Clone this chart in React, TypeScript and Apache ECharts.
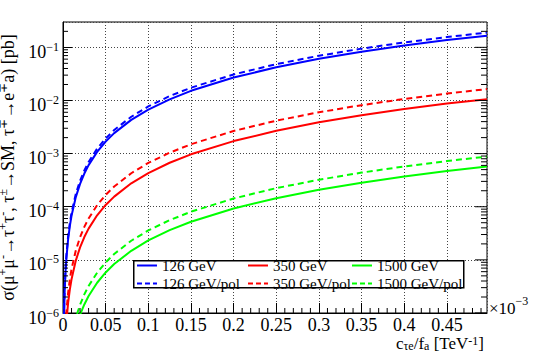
import React, { useEffect, useRef } from "react";
import * as echarts from "echarts";

// x values in units of 1e-3 TeV^-1
const X = [0.001, 0.002, 0.003, 0.004, 0.006, 0.008, 0.01, 0.015, 0.02, 0.025, 0.03, 0.04, 0.05, 0.06, 0.08, 0.1, 0.125, 0.15, 0.2, 0.25, 0.3, 0.35, 0.4, 0.45, 0.497];

const S126 = [6.8e-7, 2.7e-6, 6.1e-6, 1.08e-5, 2.43e-5, 4.32e-5, 6.75e-5, 1.52e-4, 2.7e-4, 4.22e-4, 6.08e-4, 1.08e-3, 1.69e-3, 2.43e-3, 4.32e-3, 6.75e-3, 1.05e-2, 1.52e-2, 2.7e-2, 4.22e-2, 6.08e-2, 8.27e-2, 0.108, 0.137, 0.166];
const S126P = [7.7e-7, 3.1e-6, 6.9e-6, 1.24e-5, 2.78e-5, 4.94e-5, 7.72e-5, 1.74e-4, 3.09e-4, 4.83e-4, 6.95e-4, 1.24e-3, 1.93e-3, 2.78e-3, 4.94e-3, 7.72e-3, 1.21e-2, 1.74e-2, 3.09e-2, 4.83e-2, 6.95e-2, 9.46e-2, 0.124, 0.156, 0.19];
const S350 = [4.3e-8, 1.7e-7, 3.9e-7, 6.9e-7, 1.55e-6, 2.76e-6, 4.31e-6, 9.7e-6, 1.72e-5, 2.69e-5, 3.88e-5, 6.9e-5, 1.08e-4, 1.55e-4, 2.76e-4, 4.31e-4, 6.73e-4, 9.7e-4, 1.72e-3, 2.69e-3, 3.88e-3, 5.28e-3, 6.9e-3, 8.73e-3, 1.06e-2];
const S350P = [6.7e-8, 2.7e-7, 6.0e-7, 1.07e-6, 2.4e-6, 4.27e-6, 6.67e-6, 1.5e-5, 2.67e-5, 4.17e-5, 6.0e-5, 1.07e-4, 1.67e-4, 2.4e-4, 4.27e-4, 6.67e-4, 1.04e-3, 1.5e-3, 2.67e-3, 4.17e-3, 6.0e-3, 8.17e-3, 1.07e-2, 1.35e-2, 1.64e-2];
const S1500 = [2.3e-9, 9.3e-9, 2.1e-8, 3.7e-8, 8.4e-8, 1.5e-7, 2.32e-7, 5.2e-7, 9.3e-7, 1.45e-6, 2.09e-6, 3.71e-6, 5.8e-6, 8.35e-6, 1.48e-5, 2.32e-5, 3.63e-5, 5.22e-5, 9.28e-5, 1.45e-4, 2.09e-4, 2.84e-4, 3.71e-4, 4.7e-4, 5.7e-4];
const S1500P = [3.6e-9, 1.4e-8, 3.2e-8, 5.7e-8, 1.29e-7, 2.29e-7, 3.58e-7, 8.1e-7, 1.43e-6, 2.24e-6, 3.22e-6, 5.73e-6, 8.95e-6, 1.29e-5, 2.29e-5, 3.58e-5, 5.59e-5, 8.06e-5, 1.43e-4, 2.24e-4, 3.22e-4, 4.39e-4, 5.73e-4, 7.25e-4, 8.8e-4];

const NAMES = ["126 GeV", "126 GeV/pol", "350 GeV", "350 GeV/pol", "1500 GeV", "1500 GeV/pol"];

const X_MIN = 0;
const X_MAX = 0.497;
const Y_MIN = 1e-6;
const Y_MAX = 0.3;

const FONT = "'Liberation Serif', 'Times New Roman', serif";

const SOLID_ICON = "path://M0,6h20v2h-20z M0,0h0.01v0.01h-0.01z M0,14h0.01v0.01h-0.01z";
const DASH_ICON = "path://M0,6h5v2h-5z M8,6h5v2h-5z M16,6h4v2h-4z M0,0h0.01v0.01h-0.01z M0,14h0.01v0.01h-0.01z";

export default function App() {
  const ref = useRef<HTMLDivElement>(null);

  useEffect(() => {
    if (!ref.current) return;
    const chart = echarts.init(ref.current, undefined, { renderer: "svg" });

    // tick helpers (axis decoration only)
    const tickData: number[][] = [];
    for (let e = -6; e <= -1; e++) {
      tickData.push([0, Math.pow(10, e), 2]);
      for (let m = 2; m <= 9; m++) {
        const v = m * Math.pow(10, e);
        if (v < Y_MAX) tickData.push([0, v, 0]);
      }
    }
    for (let i = 1; i < 50; i++) {
      if (i % 5 !== 0) tickData.push([i / 100, Y_MIN, 1]);
    }

    const mk = (name: string, vals: number[], color: string, dashed: boolean) => ({
      name,
      type: "line",
      data: X.map((x, i) => [x, vals[i]]),
      symbol: "none",
      showSymbol: false,
      clip: true,
      z: 3,
      lineStyle: { color, width: 2, type: dashed ? [6, 4] : "solid" },
      itemStyle: { color },
    });

    const legendBase = {
      orient: "vertical",
      top: 258,
      itemWidth: 20,
      itemHeight: 14,
      itemGap: 3,
      padding: 0,
      selectedMode: false,
      z: 6,
      textStyle: { fontFamily: FONT, fontSize: 15, color: "#000" },
    };
    const legItem = (i: number) => ({ name: NAMES[i], icon: i % 2 === 0 ? SOLID_ICON : DASH_ICON });

    const tickStyle = { stroke: "#000", lineWidth: 1 };
    const gridLine = { color: "#444", type: [1, 2], width: 1 };

    chart.setOption({
      animation: false,
      backgroundColor: "#fff",
      textStyle: { fontFamily: FONT },
      grid: {
        left: 63,
        right: 46,
        top: 22,
        bottom: 49,
        containLabel: false,
        outerBoundsMode: "none",
        show: true,
        borderColor: "#000",
        borderWidth: 1,
      },
      legend: [
        { ...legendBase, left: 137, data: [legItem(0), legItem(1)] },
        { ...legendBase, left: 248, data: [legItem(2), legItem(3)] },
        { ...legendBase, left: 352, data: [legItem(4), legItem(5)] },
      ],
      xAxis: {
        type: "value",
        min: X_MIN,
        max: X_MAX,
        interval: 0.05,
        axisLine: { show: true, lineStyle: { color: "#000", width: 1 } },
        axisTick: { show: true, inside: true, length: 10, lineStyle: { color: "#000" } },
        axisLabel: {
          fontFamily: FONT,
          fontSize: 18,
          lineHeight: 18,
          color: "#000",
          margin: 3,
          showMaxLabel: false,
          formatter: (v: number) => String(Math.round(v * 100) / 100),
        },
        splitLine: { show: true, lineStyle: gridLine },
      },
      yAxis: {
        type: "log",
        logBase: 10,
        min: Y_MIN,
        max: Y_MAX,
        axisLine: { show: true, lineStyle: { color: "#000", width: 1 } },
        axisTick: { show: true, inside: true, length: 9, lineStyle: { color: "#000" } },
        axisLabel: {
          showMaxLabel: false,
          margin: 4,
          fontFamily: FONT,
          fontSize: 18,
          color: "#000",
          padding: [7, 0, 0, 0],
          formatter: (v: number) => {
            const l = Math.log10(v);
            const e = Math.round(l);
            if (Math.abs(l - e) > 1e-6) return "";
            return `{b|10}{s|${e < 0 ? "−" : ""}${Math.abs(e)}}`;
          },
          rich: {
            b: { fontFamily: FONT, fontSize: 18, color: "#000", lineHeight: 20, verticalAlign: "bottom" },
            s: { fontFamily: FONT, fontSize: 12, color: "#000", lineHeight: 12, verticalAlign: "top" },
          },
        },
        splitLine: { show: true, lineStyle: gridLine },
        name:
          "{b|σ(μ}{s|+}{b|μ}{s|-}{b|→τ}{s|+}{b|τ}{s|-}{b|, τ}{s|±}{b|→SM, τ}{s|∓}{b|→e}{s|∓}{b|a) [pb]}",
        nameLocation: "middle",
        nameRotate: 90,
        nameGap: 34,
        nameTextStyle: {
          fontFamily: FONT,
          fontSize: 18,
          color: "#000",
          rich: {
            b: { fontFamily: FONT, fontSize: 18, color: "#000", lineHeight: 20, verticalAlign: "bottom" },
            s: { fontFamily: FONT, fontSize: 12, color: "#000", lineHeight: 12, verticalAlign: "top" },
          },
        },
      },
      graphic: [
        {
          type: "rect",
          left: 133,
          top: 260,
          z: 5,
          shape: { width: 330, height: 27 },
          style: { fill: "#fff", stroke: "#000", lineWidth: 1.5 },
        },
        {
          type: "text",
          right: 49,
          top: 335,
          z: 5,
          style: {
            text: "{b|c}{d|τe}{b|/f}{d|a}{b| [TeV}{u|-1}{b|]}",
            rich: {
              b: { fontFamily: FONT, fontSize: 17, fill: "#000", lineHeight: 17, verticalAlign: "middle" },
              d: { fontFamily: FONT, fontSize: 12, fill: "#000", lineHeight: 10, verticalAlign: "bottom" },
              u: { fontFamily: FONT, fontSize: 12, fill: "#000", lineHeight: 10, verticalAlign: "top" },
            },
          },
        },
        {
          type: "text",
          left: 489,
          top: 295,
          z: 5,
          style: {
            text: "{b|×10}{u|−3}",
            rich: {
              b: { fontFamily: FONT, fontSize: 17, fill: "#000", lineHeight: 22, verticalAlign: "bottom" },
              u: { fontFamily: FONT, fontSize: 12, fill: "#000", lineHeight: 12, verticalAlign: "top" },
            },
          },
        },
      ],
      series: [
        mk(NAMES[0], S126, "#0000ff", false),
        mk(NAMES[1], S126P, "#0000ff", true),
        mk(NAMES[2], S350, "#ff0000", false),
        mk(NAMES[3], S350P, "#ff0000", true),
        mk(NAMES[4], S1500, "#00ff00", false),
        mk(NAMES[5], S1500P, "#00ff00", true),
        {
          name: "ticks",
          type: "custom",
          data: tickData,
          encode: { x: 0, y: 1 },
          clip: false,
          silent: true,
          z: 4,
          renderItem: (_params: any, api: any) => {
            const kind = api.value(2);
            const xv = api.value(0);
            const yv = api.value(1);
            if (kind === 1) {
              const p = api.coord([xv, Y_MIN]);
              return { type: "line", shape: { x1: p[0], y1: p[1], x2: p[0], y2: p[1] - 5 }, style: tickStyle };
            }
            const l = api.coord([X_MIN, yv]);
            const r = api.coord([X_MAX, yv]);
            const lenR = kind === 2 ? 12 : 6;
            const children: any[] = [
              { type: "line", shape: { x1: r[0] - lenR, y1: r[1], x2: r[0], y2: r[1] }, style: tickStyle },
            ];
            if (kind === 0) {
              children.push({ type: "line", shape: { x1: l[0], y1: l[1], x2: l[0] + 5, y2: l[1] }, style: tickStyle });
            }
            return { type: "group", children };
          },
        },
      ],
    });

    return () => chart.dispose();
  }, []);

  return (
    <div
      ref={ref}
      style={{ position: "fixed", left: 0, top: 0, width: 533, height: 362 }}
    />
  );
}
